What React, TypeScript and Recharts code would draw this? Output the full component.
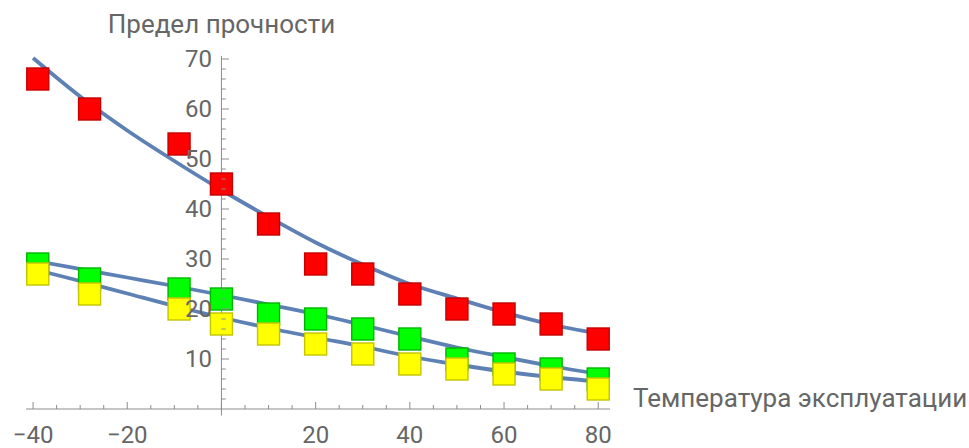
import React from 'react';
import { ComposedChart, Scatter, Line, XAxis, YAxis, ReferenceLine } from 'recharts';

// temperatures of the measured points
const temps = [-39, -28, -9, 0, 10, 20, 30, 40, 50, 60, 70, 80];
const redVals = [66, 60, 53, 45, 37, 29, 27, 23, 20, 19, 17, 14];
const greenVals = [29, 26, 24, 22, 19, 18, 16, 14, 10, 9, 8, 6];
const yellowVals = [27, 23, 20, 17, 15, 13, 11, 9, 8, 7, 6, 4];

// fitted curves
const fitTemps = [-40, -30, -20, -10, 0, 10, 20, 30, 40, 50, 60, 70, 80];
const redFit = [70.2, 62.5, 55.7, 49.6, 43.8, 38.4, 33.3, 28.9, 25.0, 22.1, 19.3, 16.9, 15.1];
const greenFit = [29.7, 28.0, 26.3, 24.6, 22.8, 20.9, 19.0, 16.8, 14.5, 12.3, 10.4, 8.6, 7.0];
const yellowFit = [28.0, 25.6, 23.1, 20.6, 18.3, 16.2, 14.3, 12.5, 10.5, 8.9, 7.5, 6.4, 5.5];

const xTicks = [-40, -35, -30, -25, -20, -15, -10, -5, 0, 5, 10, 15, 20, 25, 30, 35, 40, 45, 50, 55, 60, 65, 70, 75, 80];
const yTicks = [2, 4, 6, 8, 10, 12, 14, 16, 18, 20, 22, 24, 26, 28, 30, 32, 34, 36, 38, 40, 42, 44, 46, 48, 50, 52, 54, 56, 58, 60, 62, 64, 66, 68, 70];

const xTitle = 'Температура эксплуатации';
const yTitle = 'Предел прочности';

const W = 969;
const H = 448;
const margin = { top: 56, right: 359, left: 25, bottom: 9 };
const Y_AXIS_W = 1;
const X_DOMAIN: [number, number] = [-41.5, 82.5];
const Y_DOMAIN: [number, number] = [0, 70.6];
const PLOT_LEFT = margin.left + Y_AXIS_W;
const PLOT_W = W - PLOT_LEFT - margin.right;
// pixel position of x = 0, where the vertical axis sits
const ZERO_X = PLOT_LEFT + ((0 - X_DOMAIN[0]) / (X_DOMAIN[1] - X_DOMAIN[0])) * PLOT_W;

const FONT = 'Roboto, sans-serif';
const TEXT = '#666666';
const AXIS = '#8c8c8c';
const BLUE = '#5e81b5';

const toPoints = (xs: number[], ys: number[]) => xs.map((x, i) => ({ x, y: ys[i] }));

const redData = toPoints(temps, redVals);
const greenData = toPoints(temps, greenVals);
const yellowData = toPoints(temps, yellowVals);
const redFitData = toPoints(fitTemps, redFit);
const greenFitData = toPoints(fitTemps, greenFit);
const yellowFitData = toPoints(fitTemps, yellowFit);

const square = (fill: string, stroke: string) => (props: any) => {
  const { cx, cy } = props;
  const s = 22;
  return <rect x={cx - s / 2} y={cy - s / 2} width={s} height={s} fill={fill} stroke={stroke} strokeWidth={1.4} />;
};

const fmt = (v: number) => (v < 0 ? '\u2212' + Math.abs(v) : String(v));

const XTick = (props: any) => {
  const { x, y, payload } = props;
  const v = payload.value;
  const major = v % 20 === 0;
  return (
    <g>
      <line x1={x} x2={x} y1={y} y2={y - (major ? 7 : 4)} stroke={AXIS} strokeWidth={1} />
      {major && v !== 0 && (
        <text x={x} y={y + 34} textAnchor="middle" fill={TEXT} fontSize={24} fontFamily={FONT}>
          {fmt(v)}
        </text>
      )}
    </g>
  );
};

const YTick = (props: any) => {
  const { y, payload } = props;
  const v = payload.value;
  const major = v % 10 === 0;
  return (
    <g>
      <line x1={ZERO_X} x2={ZERO_X + (major ? 7.5 : 4.3)} y1={y} y2={y} stroke={AXIS} strokeWidth={1} />
      {major && (
        <text x={ZERO_X - 9.5} y={y + 8.3} textAnchor="end" fill={TEXT} fontSize={24} fontFamily={FONT}>
          {v}
        </text>
      )}
      {v === 70 && (
        <text x={ZERO_X} y={y - 26} textAnchor="middle" fill={TEXT} fontSize={26} fontFamily={FONT}>
          {yTitle}
        </text>
      )}
    </g>
  );
};

const XTitle = (props: any) => {
  const { viewBox } = props;
  return (
    <text x={viewBox.x + viewBox.width + 23} y={viewBox.y - 2} fill={TEXT} fontSize={26} fontFamily={FONT}>
      {xTitle}
    </text>
  );
};

const App: React.FC = () => {
  return (
    <div style={{ position: 'absolute', left: 0, top: 0, width: W, height: H, background: '#fff' }}>
      <ComposedChart width={W} height={H} margin={margin}>
        <XAxis
          type="number"
          dataKey="x"
          domain={X_DOMAIN}
          ticks={xTicks}
          interval={0}
          allowDataOverflow
          tickSize={0}
          tickMargin={0}
          tickLine={false}
          axisLine={{ stroke: AXIS, strokeWidth: 1 }}
          tick={<XTick />}
          height={30}
          label={<XTitle />}
        />
        <YAxis
          type="number"
          dataKey="y"
          domain={Y_DOMAIN}
          ticks={yTicks}
          interval={0}
          allowDataOverflow
          width={Y_AXIS_W}
          tickSize={0}
          tickMargin={0}
          tickLine={false}
          axisLine={false}
          tick={<YTick />}
        />
        <ReferenceLine
          segment={[{ x: 0, y: -1.3 }, { x: 0, y: 70.6 }]}
          stroke={AXIS}
          strokeWidth={1}
          ifOverflow="visible"
        />
        <Scatter data={redData} dataKey="y" shape={square('#ff0000', '#c40000')} isAnimationActive={false} />
        <Scatter data={greenData} dataKey="y" shape={square('#00ff00', '#00b400')} isAnimationActive={false} />
        <Scatter data={yellowData} dataKey="y" shape={square('#ffff00', '#c4c400')} isAnimationActive={false} />
        <Line data={redFitData} dataKey="y" type="monotone" stroke={BLUE} strokeWidth={3.8} dot={false} isAnimationActive={false} />
        <Line data={greenFitData} dataKey="y" type="monotone" stroke={BLUE} strokeWidth={3.8} dot={false} isAnimationActive={false} />
        <Line data={yellowFitData} dataKey="y" type="monotone" stroke={BLUE} strokeWidth={3.8} dot={false} isAnimationActive={false} />
      </ComposedChart>
    </div>
  );
};

export default App;
